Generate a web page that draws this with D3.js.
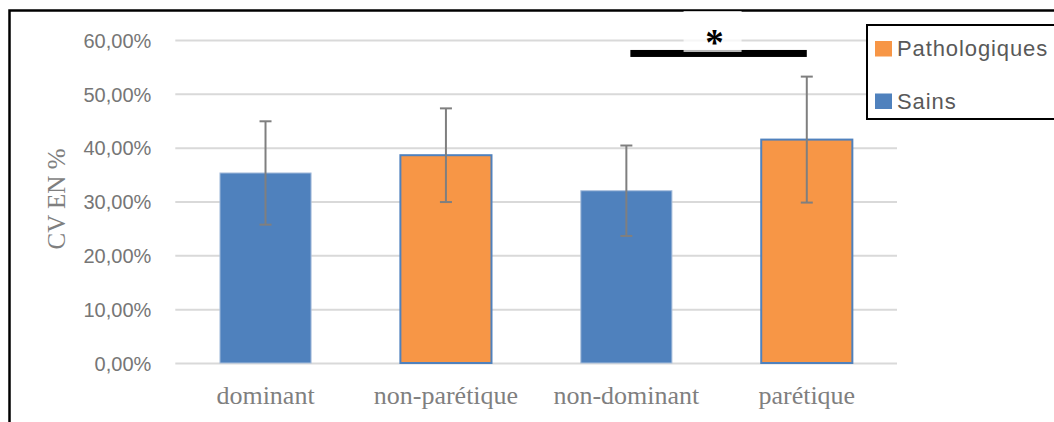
<!DOCTYPE html>
<html>
<head>
<meta charset="utf-8">
<script src="https://cdn.jsdelivr.net/npm/d3@7"></script>
<style>
  html, body { margin: 0; padding: 0; background: #fff; }
  svg { display: block; }
</style>
</head>
<body>
<svg id="chart" width="1054" height="422"></svg>
<script>
// ---- data ----
const categories = ["dominant", "non-parétique", "non-dominant", "parétique"];
const groups = ["Sains", "Pathologiques", "Sains", "Pathologiques"];
const means = [0.353, 0.386, 0.320, 0.415];
const errors = [0.096, 0.087, 0.084, 0.117];
const yTicks = [0, 0.1, 0.2, 0.3, 0.4, 0.5, 0.6];
const legendItems = ["Pathologiques", "Sains"];
const sigPair = ["non-dominant", "parétique"];
const sigLevel = 0.575;
const sigLabel = "*";
const yTitle = "CV EN %";

// ---- setup ----
const svg = d3.select("#chart");
const colors = { "Sains": "#4F81BD", "Pathologiques": "#F79646" };
const plot = { left: 175.3, right: 897, top: 40, bottom: 363 };

const x = d3.scaleBand().domain(categories)
  .range([plot.left, plot.right]).paddingInner(0.495).paddingOuter(0.2475);
const y = d3.scaleLinear().domain([0, 0.6]).range([plot.bottom, plot.top]);

const fr = d3.formatLocale({ decimal: ",", thousands: " ", grouping: [3], currency: ["", " €"] });
const pct = fr.format(".2%");

// outer border
svg.append("rect").attr("x", 9.5).attr("y", 10.5).attr("width", 1200).attr("height", 600)
  .attr("fill", "none").attr("stroke", "#000").attr("stroke-width", 2.5);

// y axis with gridlines
const yAxis = svg.append("g").attr("transform", `translate(${plot.left},0)`)
  .call(d3.axisLeft(y).tickValues(yTicks).tickFormat(pct)
    .tickSize(-(plot.right - plot.left)).tickPadding(24));
yAxis.select(".domain").remove();
yAxis.selectAll(".tick line").attr("stroke", "#d9d9d9").attr("stroke-width", 2);
yAxis.selectAll(".tick text")
  .attr("fill", "#767676").attr("font-family", "'Liberation Sans', Arial, sans-serif")
  .attr("font-size", 20).attr("dy", "0.36em");

// x axis labels
const xAxis = svg.append("g").attr("transform", `translate(0,${plot.bottom})`)
  .call(d3.axisBottom(x).tickSize(0).tickPadding(0));
xAxis.select(".domain").remove();
xAxis.selectAll(".tick text")
  .attr("fill", "#7f7f7f").attr("font-family", "'Liberation Serif', 'Times New Roman', serif")
  .attr("font-size", 26).attr("y", 41).attr("dy", 0);

// y title
svg.append("text")
  .attr("transform", "translate(65,199) rotate(-90)")
  .attr("text-anchor", "middle")
  .attr("fill", "#7f7f7f").attr("font-family", "'Liberation Serif', 'Times New Roman', serif")
  .attr("font-size", 25).attr("textLength", 101).attr("lengthAdjust", "spacingAndGlyphs")
  .text(yTitle);

// bars
svg.append("g").selectAll("rect").data(categories).join("rect")
  .attr("x", d => x(d))
  .attr("y", (d, i) => y(means[i]))
  .attr("width", x.bandwidth())
  .attr("height", (d, i) => y(0) - y(means[i]))
  .attr("fill", (d, i) => colors[groups[i]])
  .attr("stroke", (d, i) => groups[i] === "Pathologiques" ? "#4F81BD" : "#a9bfdc")
  .attr("stroke-width", (d, i) => groups[i] === "Pathologiques" ? 2 : 1);

// error bars
const eb = svg.append("g").attr("stroke", "#7f7f7f").attr("stroke-width", 2);
categories.forEach((c, i) => {
  const cx = x(c) + x.bandwidth() / 2;
  const hi = y(means[i] + errors[i]), lo = y(means[i] - errors[i]);
  eb.append("line").attr("x1", cx).attr("x2", cx).attr("y1", hi).attr("y2", lo);
  eb.append("line").attr("x1", cx - 6).attr("x2", cx + 6).attr("y1", hi).attr("y2", hi);
  eb.append("line").attr("x1", cx - 6).attr("x2", cx + 6).attr("y1", lo).attr("y2", lo);
});

// significance bar
const sx1 = x(sigPair[0]) + x.bandwidth() / 2 + 4;
const sx2 = x(sigPair[1]) + x.bandwidth() / 2;
const sy = y(sigLevel);
svg.append("rect").attr("x", sx1).attr("y", sy - 3.5).attr("width", sx2 - sx1).attr("height", 7)
  .attr("fill", "#000");
const mid = (sx1 + sx2) / 2 - 6;
svg.append("rect").attr("x", mid - 29).attr("y", 11).attr("width", 58).attr("height", sy - 2.5 - 11)
  .attr("fill", "#fff").attr("opacity", 0.75);
svg.append("line").attr("x1", mid - 29).attr("x2", mid + 29).attr("y1", sy - 2).attr("y2", sy - 2)
  .attr("stroke", "#bfbfbf").attr("stroke-width", 1);
svg.append("text").attr("x", mid + 2).attr("y", sy + 1.5).attr("text-anchor", "middle")
  .attr("font-family", "'Liberation Serif', 'Times New Roman', serif")
  .attr("font-weight", "bold").attr("font-size", 37).attr("fill", "#000")
  .text(sigLabel);

// legend
const lg = svg.append("g").attr("transform", "translate(867,25)");
lg.append("rect").attr("width", 250).attr("height", 94)
  .attr("fill", "#fff").attr("stroke", "#000").attr("stroke-width", 2);
legendItems.forEach((name, i) => {
  const row = lg.append("g").attr("transform", `translate(8,${16 + i * 52.5})`);
  row.append("rect").attr("width", 17).attr("height", 15.5).attr("fill", colors[name]);
  row.append("text").attr("x", 22).attr("y", 15)
    .attr("fill", "#595959").attr("font-family", "'Liberation Sans', Arial, sans-serif")
    .attr("font-size", 22).attr("letter-spacing", 0.9).text(name);
});
</script>
</body>
</html>
